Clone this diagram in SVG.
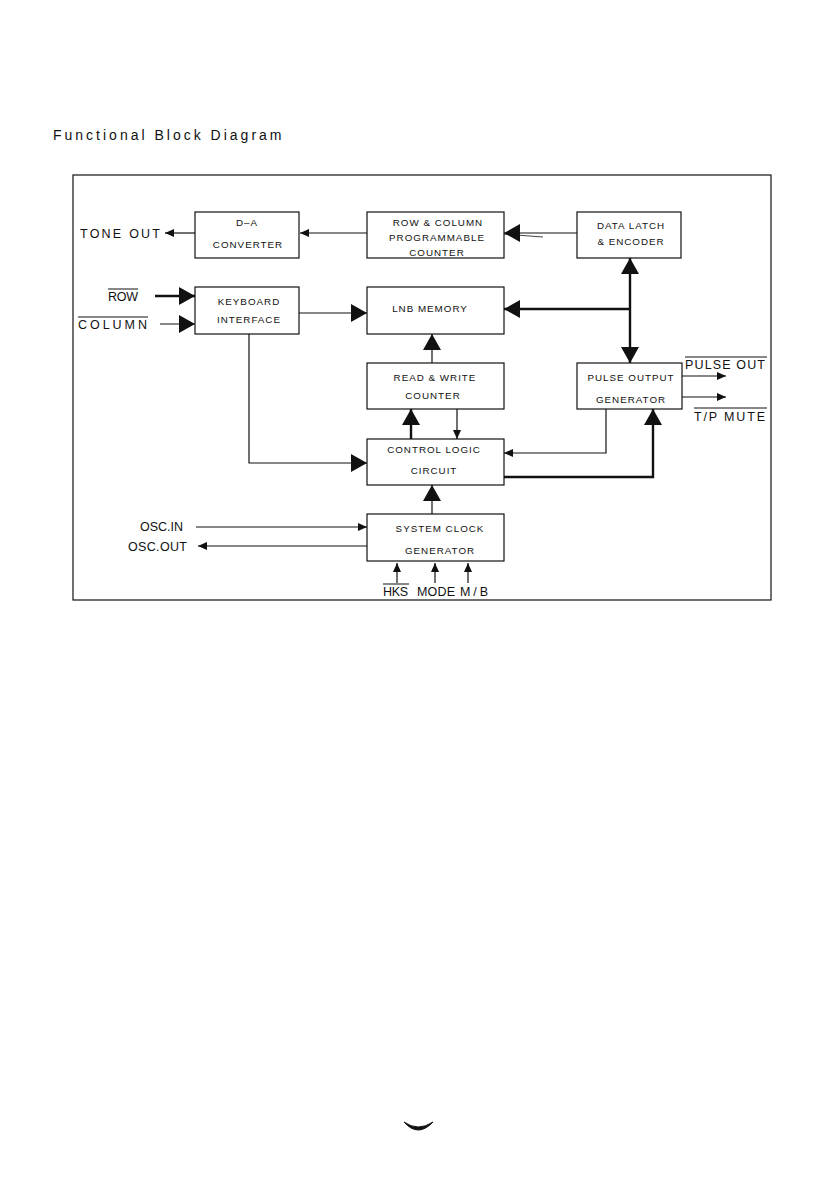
<svg xmlns="http://www.w3.org/2000/svg" width="839" height="1191" viewBox="0 0 839 1191">
<style>
.box{fill:#fff;stroke:#111;stroke-width:1.2}
.t{font-family:"Liberation Sans",Arial,sans-serif;font-size:9.8px;fill:#111;letter-spacing:1px;text-anchor:middle}
.l{font-family:"Liberation Sans",Arial,sans-serif;font-size:12.5px;fill:#111}
.thin{fill:none;stroke:#111;stroke-width:1.2}
.thick{fill:none;stroke:#111;stroke-width:2.4}
.ov{stroke:#111;stroke-width:1}
</style>
<defs>
<marker id="big" markerUnits="userSpaceOnUse" viewBox="0 0 16 18" markerWidth="16" markerHeight="18" refX="16" refY="9" orient="auto-start-reverse"><path d="M0,0 L16,9 L0,18 z" fill="#111"/></marker>
<marker id="sm" markerUnits="userSpaceOnUse" viewBox="0 0 9 8" markerWidth="9" markerHeight="8" refX="9" refY="4" orient="auto-start-reverse"><path d="M0,0 L9,4 L0,8 z" fill="#111"/></marker>
</defs>
<rect width="839" height="1191" fill="#fff"/>
<text x="53" y="140" font-family="Liberation Sans,Arial,sans-serif" font-size="14" letter-spacing="3" fill="#111">Functional Block Diagram</text>
<rect x="73" y="175" width="698" height="425" fill="none" stroke="#111" stroke-width="1.2"/>

<g id="connectors">
<line class="thin" x1="195" y1="233" x2="165" y2="233" marker-end="url(#sm)"/>
<line class="thin" x1="367" y1="233" x2="300" y2="233" marker-end="url(#sm)"/>
<line class="thin" x1="577" y1="233" x2="504" y2="233" marker-end="url(#big)"/>
<line x1="475" y1="232" x2="543" y2="237" stroke="#111" stroke-width="0.8"/>
<line class="thick" x1="155" y1="296" x2="195" y2="296" marker-end="url(#big)"/>
<line class="thin" x1="160" y1="324" x2="195" y2="324" marker-end="url(#big)"/>
<line class="thin" x1="299" y1="313" x2="367" y2="313" marker-end="url(#big)"/>
<line class="thick" x1="630" y1="309" x2="504" y2="309" marker-end="url(#big)"/>
<line class="thick" x1="630" y1="258" x2="630" y2="363" marker-start="url(#big)" marker-end="url(#big)"/>
<line class="thin" x1="432" y1="363" x2="432" y2="334" marker-end="url(#big)"/>
<line class="thick" x1="411" y1="439" x2="411" y2="409" marker-end="url(#big)"/>
<line class="thin" x1="457" y1="409" x2="457" y2="439" marker-end="url(#sm)"/>
<polyline class="thin" points="606,409 606,453 504,453" marker-end="url(#sm)"/>
<polyline class="thick" points="504,477 653,477 653,409" marker-end="url(#big)"/>
<polyline class="thin" points="249,334 249,463 367,463" marker-end="url(#big)"/>
<line class="thin" x1="432" y1="514" x2="432" y2="485" marker-end="url(#big)"/>
<line class="thin" x1="196" y1="527" x2="367" y2="527" marker-end="url(#sm)"/>
<line class="thin" x1="367" y1="546" x2="198" y2="546" marker-end="url(#sm)"/>
<line class="thin" x1="682" y1="376" x2="726" y2="376" marker-end="url(#sm)"/>
<line class="thin" x1="682" y1="397" x2="726" y2="397" marker-end="url(#sm)"/>
<line class="thin" x1="397" y1="583" x2="397" y2="563" marker-end="url(#sm)"/>
<line class="thin" x1="435" y1="583" x2="435" y2="563" marker-end="url(#sm)"/>
<line class="thin" x1="468" y1="583" x2="468" y2="563" marker-end="url(#sm)"/>
</g>

<g id="da"><rect class="box" x="195" y="212" width="104" height="46"/><text class="t" x="247" y="226">D–A</text><text class="t" x="248" y="248">CONVERTER</text></g>
<g id="rowcol"><rect class="box" x="367" y="212" width="137" height="46"/><text class="t" x="438" y="226">ROW &amp; COLUMN</text><text class="t" x="437" y="241">PROGRAMMABLE</text><text class="t" x="437" y="256">COUNTER</text></g>
<g id="latch"><rect class="box" x="577" y="212" width="104" height="46"/><text class="t" x="631" y="229">DATA LATCH</text><text class="t" x="631" y="245">&amp; ENCODER</text></g>
<g id="keyboard"><rect class="box" x="195" y="287" width="104" height="47"/><text class="t" x="249" y="305">KEYBOARD</text><text class="t" x="249" y="323">INTERFACE</text></g>
<g id="lnb"><rect class="box" x="367" y="287" width="137" height="47"/><text class="t" x="430" y="312">LNB MEMORY</text></g>
<g id="rw"><rect class="box" x="367" y="363" width="137" height="46"/><text class="t" x="435" y="381">READ &amp; WRITE</text><text class="t" x="433" y="399">COUNTER</text></g>
<g id="pulse"><rect class="box" x="577" y="363" width="105" height="46"/><text class="t" x="631" y="381">PULSE OUTPUT</text><text class="t" x="631" y="403">GENERATOR</text></g>
<g id="control"><rect class="box" x="367" y="439" width="137" height="46"/><text class="t" x="434" y="453">CONTROL LOGIC</text><text class="t" x="434" y="474">CIRCUIT</text></g>
<g id="clock"><rect class="box" x="367" y="514" width="137" height="47"/><text class="t" x="440" y="532">SYSTEM CLOCK</text><text class="t" x="440" y="554">GENERATOR</text></g>

<g id="labels">
<text class="l" x="80" y="238" textLength="80" lengthAdjust="spacing">TONE OUT</text>
<text class="l" x="108" y="301" textLength="30" lengthAdjust="spacing">ROW</text><line class="ov" x1="108" y1="289" x2="138" y2="289"/>
<text class="l" x="78" y="329" textLength="69" lengthAdjust="spacing">COLUMN</text><line class="ov" x1="78" y1="317" x2="148" y2="317"/>
<text class="l" x="140" y="531" textLength="43" lengthAdjust="spacing">OSC.IN</text>
<text class="l" x="128" y="551" textLength="59" lengthAdjust="spacing">OSC.OUT</text>
<text class="l" x="685" y="369" textLength="80" lengthAdjust="spacing">PULSE OUT</text><line class="ov" x1="685" y1="357" x2="767" y2="357"/>
<text class="l" x="694" y="421" textLength="71" lengthAdjust="spacing">T/P MUTE</text><line class="ov" x1="694" y1="408" x2="767" y2="408"/>
<text class="l" x="383" y="596" textLength="25" lengthAdjust="spacing">HKS</text><line class="ov" x1="383" y1="584" x2="409" y2="584"/>
<text class="l" x="417" y="596" textLength="38" lengthAdjust="spacing">MODE</text>
<text class="l" x="460" y="596" textLength="28" lengthAdjust="spacing">M/B</text>
</g>
<path d="M404,1122 Q418,1138 433,1122 Q418,1132 404,1122 z" fill="#111" stroke="#111" stroke-width="1"/>
</svg>
